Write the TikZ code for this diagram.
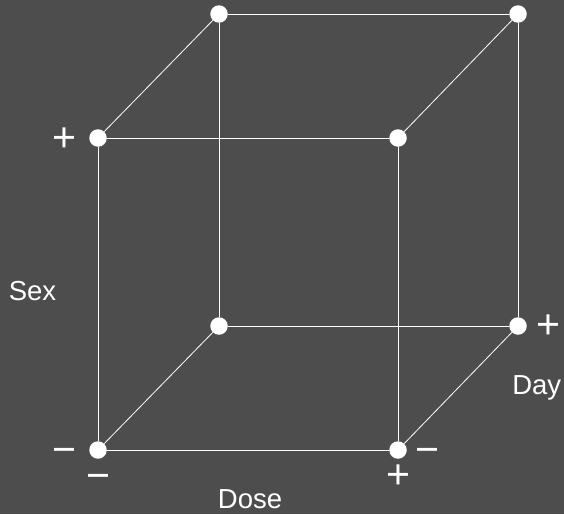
\documentclass[tikz,border=0pt]{standalone}
\usepackage{fontspec}
\setmainfont{Liberation Sans}
\definecolor{bgc}{HTML}{4D4D4D}
\begin{document}
\begin{tikzpicture}[x=1pt,y=-1pt,
  dot/.style={circle,fill=white,draw=none,inner sep=0pt,minimum size=17.5pt},
  edge/.style={draw=white,line width=0.8pt},
  lab/.style={text=white,inner sep=0pt,font=\fontsize{27.5}{31}\selectfont,anchor=base},
  sgn/.style={text=white,inner sep=0pt,font=\fontsize{41}{45}\selectfont,anchor=base}]
\fill[bgc] (0,0) rectangle (564,514);
\useasboundingbox (0,0) rectangle (564,514);
% vertices
\node[dot] (ftl) at (98,138) {};
\node[dot] (ftr) at (398,138) {};
\node[dot] (fbl) at (98,450) {};
\node[dot] (fbr) at (398,450) {};
\node[dot] (btl) at (219,14) {};
\node[dot] (btr) at (518,14) {};
\node[dot] (bbl) at (219,326) {};
\node[dot] (bbr) at (518,326) {};
% edges
\draw[edge] (ftl) -- (ftr);
\draw[edge] (ftr) -- (fbr);
\draw[edge] (fbr) -- (fbl);
\draw[edge] (fbl) -- (ftl);
\draw[edge] (btl) -- (btr);
\draw[edge] (btr) -- (bbr);
\draw[edge] (bbr) -- (bbl);
\draw[edge] (bbl) -- (btl);
\draw[edge] (ftl) -- (btl);
\draw[edge] (ftr) -- (btr);
\draw[edge] (fbl) -- (bbl);
\draw[edge] (fbr) -- (bbr);
% labels
\node[lab] (sex) at (32.5,300.7) {Sex};
\node[lab] (day) at (536.7,394) {Day};
\node[lab] (dose) at (250,508) {Dose};
% signs
\node[sgn] (sexp) at (64.7,151.5) {+};
\node[sgn] (sexm) at (64.7,463.5) {−};
\node[sgn] (dosem) at (98.3,489.5) {−};
\node[sgn] (dosep) at (398,488.5) {+};
\node[sgn] (daym) at (427.7,463.5) {−};
\node[sgn] (dayp) at (548,338.5) {+};
\end{tikzpicture}
\end{document}
